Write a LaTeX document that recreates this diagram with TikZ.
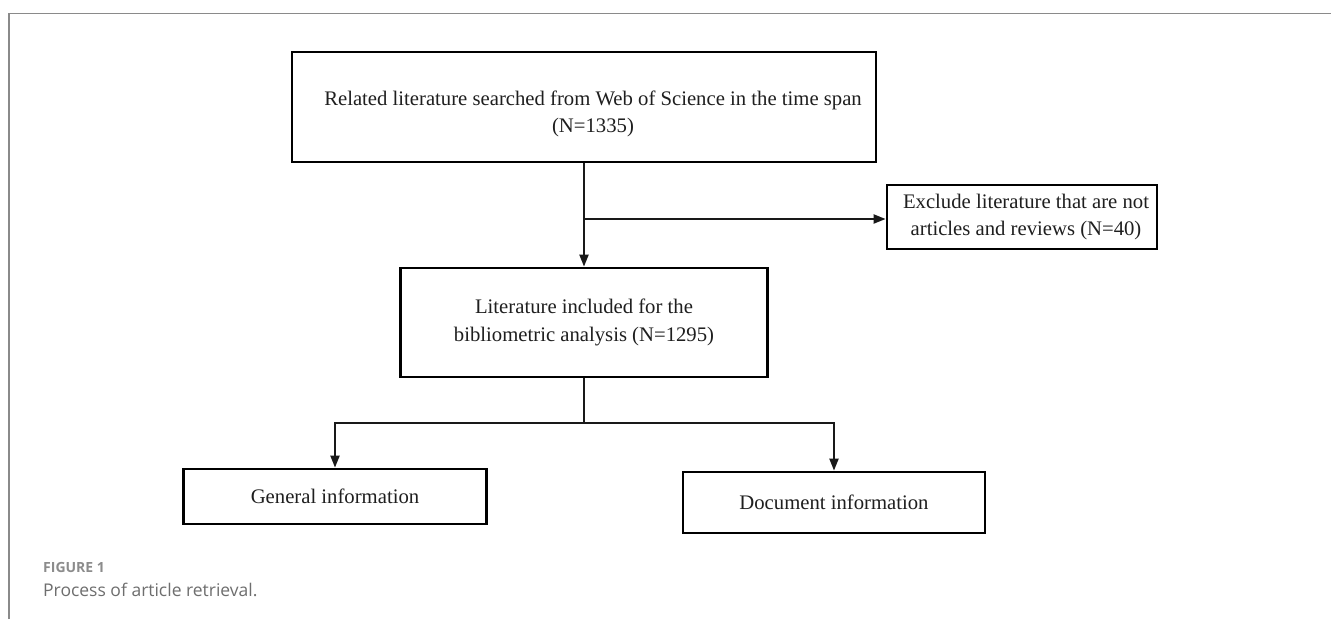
\documentclass[tikz,border=0pt]{standalone}
\usepackage{fontspec}
\setmainfont{Liberation Serif}
\newfontfamily\capfont{Open Sans}
\usetikzlibrary{arrows.meta}
\definecolor{framegray}{HTML}{8A8A8A}
\definecolor{capgray}{HTML}{6E6E6E}
\definecolor{figgray}{HTML}{8C8C8C}
\tikzset{
  flowbox/.style={draw=black, line width=2.8pt, rectangle, inner sep=0pt, align=center,
    font=\fontsize{20.7}{27.5}\selectfont, text=black!88},
  flowtext/.style={inner sep=0pt, align=center, font=\fontsize{20.7}{27.5}\selectfont, text=black!88},
  flowarrow/.style={draw=black!90, line width=2.1pt, -{Triangle[length=12pt,width=9pt]}},
  flowline/.style={draw=black!90, line width=2.1pt},
}
\begin{document}
\begin{tikzpicture}[x=1pt,y=-1pt]
\useasboundingbox (0,0) rectangle (1331,619);
\fill[white] (0,0) rectangle (1331,619);
% frame
\draw[framegray, line width=1.3pt] (9,619) -- (9,13.5) -- (1331,13.5);
% nodes
\node[flowbox, minimum width=584pt, minimum height=110pt] (top) at (584,107) {};
\node[flowtext] (toptext) at (593,114)
  {Related literature searched from Web of Science in the time span\\(N=1335)};
\node[flowbox, minimum width=270pt, minimum height=64pt] (excl) at (1022,217) {};
\node[flowtext] (excltext) at (1026,217)
  {Exclude literature that are not\\articles and reviews (N=40)};
\node[flowbox, minimum width=367pt, minimum height=109pt] (mid) at (584,322.5)
  {Literature included for the\\bibliometric analysis (N=1295)};
\node[flowbox, minimum width=303pt, minimum height=55pt] (gen) at (335,496.5)
  {General information};
\node[flowbox, minimum width=302pt, minimum height=61pt] (doc) at (834,502.5)
  {Document information};
% connectors
\coordinate (b1) at (584,219);
\coordinate (b2) at (584,423);
\draw[flowarrow] (top.south) -- (mid.north);
\draw[flowarrow] (b1) -- (b1 -| excl.west);
\draw[flowline] (mid.south) -- (b2);
\draw[flowarrow] (b2) -| (gen.north);
\draw[flowarrow] (b2) -| (doc.north);
% caption
\node[anchor=west, inner sep=0pt, font=\capfont\bfseries\fontsize{14}{16}\selectfont, text=figgray] (figlab) at (43,567) {FIGURE 1};
\node[anchor=west, inner sep=0pt, font=\capfont\fontsize{17.5}{20}\selectfont, text=capgray] (figcap) at (43,590) {Process of article retrieval.};
\end{tikzpicture}
\end{document}
